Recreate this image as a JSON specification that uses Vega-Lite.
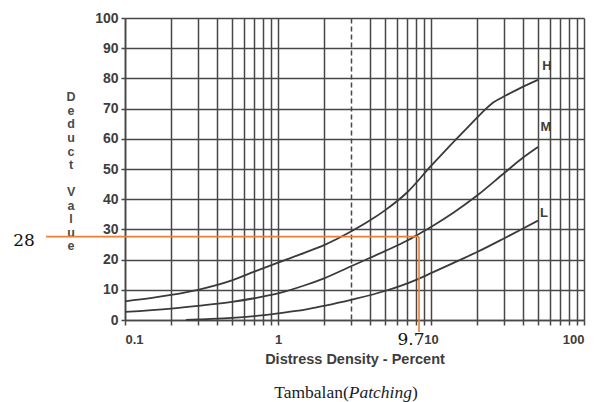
{
  "$schema": "https://vega.github.io/schema/vega-lite/v6.json",
  "width": 459,
  "height": 302,
  "autosize": {"type": "none"},
  "padding": {"left": 125, "top": 18, "right": 11, "bottom": 82},
  "background": "white",
  "config": {
    "view": {"stroke": null},
    "axis": {
      "labelFont": "Liberation Sans",
      "labelFontWeight": "bold",
      "labelColor": "#3d3d3d",
      "titleFont": "Liberation Sans",
      "gridColor": "#474747",
      "gridOpacity": 1,
      "gridWidth": 1.5,
      "tickColor": "#474747",
      "tickWidth": 1.5,
      "domainColor": "#474747",
      "domainWidth": 1.6
    }
  },
  "datasets": {
    "curves": [
      {"series": "H", "x": 0.1, "y": 6.2}, {"series": "H", "x": 0.15, "y": 7.3}, {"series": "H", "x": 0.2, "y": 8.3},
      {"series": "H", "x": 0.3, "y": 10}, {"series": "H", "x": 0.5, "y": 13.1}, {"series": "H", "x": 0.7, "y": 16},
      {"series": "H", "x": 1, "y": 19}, {"series": "H", "x": 1.5, "y": 22.3}, {"series": "H", "x": 2, "y": 24.8},
      {"series": "H", "x": 3, "y": 29.3}, {"series": "H", "x": 4, "y": 33}, {"series": "H", "x": 5, "y": 36.3},
      {"series": "H", "x": 7, "y": 42.3}, {"series": "H", "x": 10, "y": 51}, {"series": "H", "x": 15, "y": 60.5},
      {"series": "H", "x": 17, "y": 63.3}, {"series": "H", "x": 20, "y": 67}, {"series": "H", "x": 25.5, "y": 72},
      {"series": "H", "x": 31, "y": 74.4}, {"series": "H", "x": 38, "y": 76.7}, {"series": "H", "x": 50, "y": 79.5},
      {"series": "M", "x": 0.1, "y": 2.7}, {"series": "M", "x": 0.2, "y": 3.8}, {"series": "M", "x": 0.3, "y": 4.7},
      {"series": "M", "x": 0.5, "y": 6}, {"series": "M", "x": 0.7, "y": 7.2}, {"series": "M", "x": 1, "y": 8.8},
      {"series": "M", "x": 1.5, "y": 11.5}, {"series": "M", "x": 2, "y": 13.8}, {"series": "M", "x": 3, "y": 17.8},
      {"series": "M", "x": 5, "y": 22.8}, {"series": "M", "x": 7, "y": 26.3}, {"series": "M", "x": 8.35, "y": 28.5},
      {"series": "M", "x": 10, "y": 30.8}, {"series": "M", "x": 14, "y": 35.5}, {"series": "M", "x": 20, "y": 41.2},
      {"series": "M", "x": 30, "y": 48.6}, {"series": "M", "x": 40, "y": 53.8}, {"series": "M", "x": 50, "y": 57.3},
      {"series": "L", "x": 0.25, "y": 0}, {"series": "L", "x": 0.3, "y": 0.2}, {"series": "L", "x": 0.5, "y": 0.7},
      {"series": "L", "x": 0.7, "y": 1.3}, {"series": "L", "x": 1, "y": 2.2}, {"series": "L", "x": 1.5, "y": 3.4},
      {"series": "L", "x": 2, "y": 4.7}, {"series": "L", "x": 3, "y": 6.7}, {"series": "L", "x": 5, "y": 9.6},
      {"series": "L", "x": 8, "y": 13.3}, {"series": "L", "x": 10, "y": 15.5}, {"series": "L", "x": 15, "y": 19.6},
      {"series": "L", "x": 20, "y": 22.5}, {"series": "L", "x": 30, "y": 27}, {"series": "L", "x": 40, "y": 30.3},
      {"series": "L", "x": 50, "y": 32.9}
    ],
    "curveLabels": [
      {"text": "H", "x": 57.3, "y": 84},
      {"text": "M", "x": 56.4, "y": 64},
      {"text": "L", "x": 54.8, "y": 35.3}
    ],
    "guide": [
      {"x": 0.0305, "x2": 8.35, "y": 27.6, "y2": 27.6},
      {"x": 8.35, "x2": 8.35, "y": 27.6, "y2": -4}
    ],
    "guideLabels": [
      {"text": "28", "x": 0.0219, "y": 26.2},
      {"text": "9.7", "x": 7.4, "y": -6.6}
    ],
    "yTitle": [
      {"text": "D|e|d|u|c|t", "x": 0.0444, "y": 73.8},
      {"text": "V|a|l|u|e", "x": 0.0444, "y": 42.4}
    ]
  },
  "encoding": {
    "x": {
      "field": "x", "type": "quantitative",
      "scale": {"type": "log", "domain": [0.1, 100], "nice": false},
      "axis": {
        "values": [0.1, 0.2, 0.3, 0.4, 0.5, 0.6, 0.7, 0.8, 0.9, 1, 2, 3, 4, 5, 6, 7, 8, 9, 10, 20, 30, 40, 50, 60, 70, 80, 90, 100],
        "format": "~g",
        "labelExpr": "(datum.value == 0.1 || datum.value == 1 || datum.value == 10 || datum.value == 100) ? datum.label : ''",
        "labelOverlap": false,
        "labelFontSize": 13,
        "labelPadding": 8,
        "tickSize": 5,
        "grid": true,
        "gridDash": {"condition": {"test": "datum.value == 3", "value": [5, 3]}, "value": []},
        "title": "Distress Density - Percent",
        "titleFontSize": 14.5,
        "titleFontWeight": "bold",
        "titleColor": "#3d3d3d",
        "titleY": 39,
        "titleBaseline": "middle"
      }
    },
    "y": {
      "field": "y", "type": "quantitative",
      "scale": {"domain": [0, 100], "nice": false, "zero": false},
      "axis": {
        "values": [0, 10, 20, 30, 40, 50, 60, 70, 80, 90, 100],
        "labelOverlap": false,
        "labelFontSize": 14,
        "labelPadding": 3,
        "tickSize": 4,
        "grid": true,
        "title": null
      }
    }
  },
  "layer": [
    {
      "data": {"name": "curves"},
      "mark": {"type": "line", "interpolate": "monotone", "color": "#3a3a3a", "strokeWidth": 1.8},
      "encoding": {
        "detail": {"field": "series"}
      }
    },
    {
      "data": {"name": "curveLabels"},
      "mark": {"type": "text", "font": "Liberation Sans", "fontWeight": "bold", "fontSize": 13, "color": "#3d3d3d", "align": "center", "baseline": "middle"},
      "encoding": {
        "text": {"field": "text"}
      }
    },
    {
      "data": {"name": "yTitle"},
      "mark": {"type": "text", "font": "Liberation Sans", "fontWeight": "bold", "fontSize": 12.5, "color": "#4a4a4a", "align": "center", "baseline": "middle", "lineBreak": "|", "lineHeight": 13.6},
      "encoding": {
        "text": {"field": "text"}
      }
    },
    {
      "data": {"name": "guide"},
      "mark": {"type": "rule", "color": "#ED7D31", "strokeWidth": 1.6},
      "encoding": {
        "x2": {"field": "x2"},
        "y2": {"field": "y2"}
      }
    },
    {
      "data": {"name": "guideLabels"},
      "mark": {"type": "text", "font": "DejaVu Serif", "fontSize": 17, "color": "#111111", "align": "center", "baseline": "middle"},
      "encoding": {
        "text": {"field": "text"}
      }
    },
    {
      "data": {"values": [{"text": "Tambalan(", "x": 2.9, "y": -25.8}]},
      "mark": {"type": "text", "font": "Liberation Serif", "fontSize": 17.5, "color": "#1a1a2a", "align": "right", "baseline": "alphabetic"},
      "encoding": {
        "text": {"field": "text"}
      }
    },
    {
      "data": {"values": [{"text": "Patching", "x": 2.9, "y": -25.8}]},
      "mark": {"type": "text", "font": "Liberation Serif", "fontStyle": "italic", "fontSize": 17.5, "color": "#1a1a2a", "align": "left", "baseline": "alphabetic"},
      "encoding": {
        "text": {"field": "text"}
      }
    },
    {
      "data": {"values": [{"text": ")", "x": 7.51, "y": -25.8}]},
      "mark": {"type": "text", "font": "Liberation Serif", "fontSize": 17.5, "color": "#1a1a2a", "align": "left", "baseline": "alphabetic"},
      "encoding": {
        "text": {"field": "text"}
      }
    }
  ]
}
